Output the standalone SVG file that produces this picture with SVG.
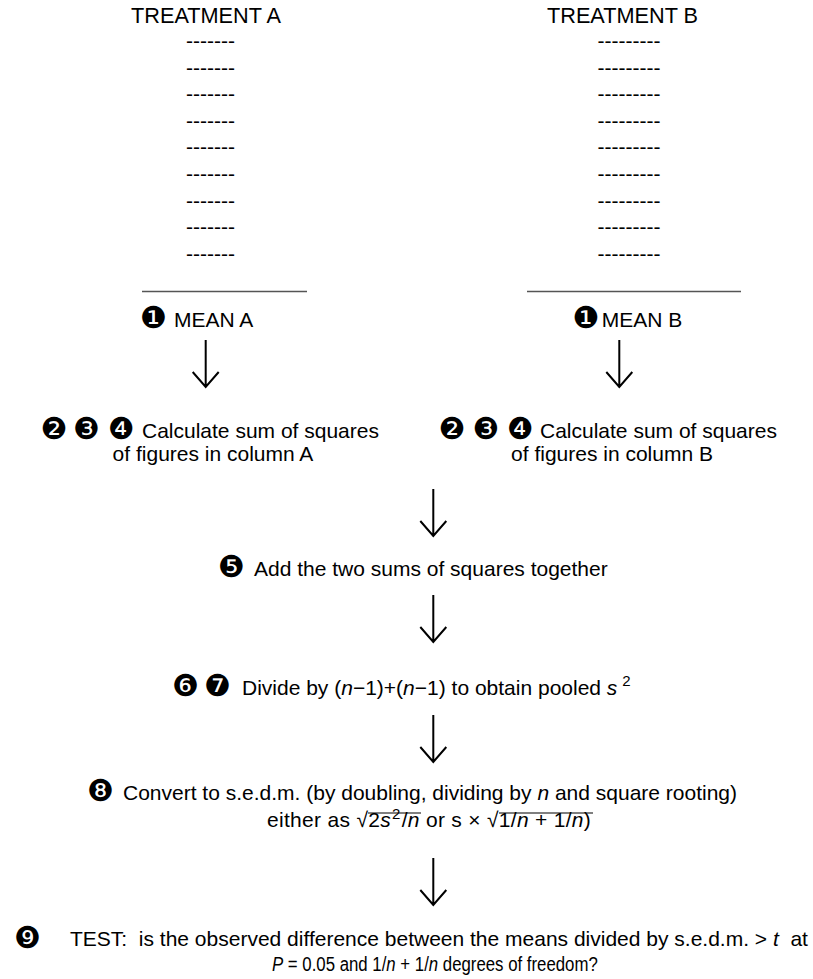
<svg xmlns="http://www.w3.org/2000/svg" width="813" height="979" viewBox="0 0 813 979">
<style>
text{font-family:"Liberation Sans",Arial,sans-serif;font-size:21px;fill:#000}
.h{font-size:21.7px}
.d{font-family:"DejaVu Sans",sans-serif;font-size:30px}
.i{font-style:italic}
.m{text-anchor:middle}
.arr{stroke:#000;stroke-width:2;fill:none}
.rule{stroke:#555;stroke-width:1.3}
.ov{stroke:#000;stroke-width:1.2}
</style>
<defs>
<symbol id="arrow" overflow="visible"><path class="arr" d="M13 0 V47 M0 32 L13 47 L26 32"/></symbol>
</defs>
<g id="treatmentA">
<text class="m h" x="206" y="23">TREATMENT A</text>
<text class="m" x="210.5" y="48">-------</text>
<text class="m" x="210.5" y="74.6">-------</text>
<text class="m" x="210.5" y="101.2">-------</text>
<text class="m" x="210.5" y="127.8">-------</text>
<text class="m" x="210.5" y="154.4">-------</text>
<text class="m" x="210.5" y="181">-------</text>
<text class="m" x="210.5" y="207.6">-------</text>
<text class="m" x="210.5" y="234.2">-------</text>
<text class="m" x="210.5" y="260.8">-------</text>
<line class="rule" x1="142" y1="291.5" x2="307" y2="291.5"/>
</g>
<g id="treatmentB">
<text class="m h" x="622.5" y="23">TREATMENT B</text>
<text class="m" x="629" y="48">---------</text>
<text class="m" x="629" y="74.6">---------</text>
<text class="m" x="629" y="101.2">---------</text>
<text class="m" x="629" y="127.8">---------</text>
<text class="m" x="629" y="154.4">---------</text>
<text class="m" x="629" y="181">---------</text>
<text class="m" x="629" y="207.6">---------</text>
<text class="m" x="629" y="234.2">---------</text>
<text class="m" x="629" y="260.8">---------</text>
<line class="rule" x1="527" y1="291.5" x2="741" y2="291.5"/>
</g>
<g id="meanA">
<text class="d" x="140" y="328">❶</text>
<text x="174" y="327">MEAN A</text>
</g>
<g id="meanB">
<text class="d" x="572.5" y="328">❶</text>
<text x="601.7" y="327">MEAN B</text>
</g>
<g id="ssA">
<text class="d" x="40.5" y="439">❷</text>
<text class="d" x="73" y="439">❸</text>
<text class="d" x="108" y="439">❹</text>
<text x="142" y="438">Calculate sum of squares</text>
<text class="m" x="213" y="461">of figures in column A</text>
</g>
<g id="ssB">
<text class="d" x="438.5" y="439">❷</text>
<text class="d" x="472.5" y="439">❸</text>
<text class="d" x="507" y="439">❹</text>
<text x="540" y="438">Calculate sum of squares</text>
<text class="m" x="612" y="461">of figures in column B</text>
</g>
<g id="step5">
<text class="d" x="218" y="576.5">❺</text>
<text x="254" y="575.5">Add the two sums of squares together</text>
</g>
<g id="step6">
<text class="d" x="172" y="696">❻</text>
<text class="d" x="204" y="696">❼</text>
<text x="242" y="695">Divide by (<tspan class="i">n</tspan>−1)+(<tspan class="i">n</tspan>−1) to obtain pooled <tspan class="i">s</tspan><tspan font-size="15" dx="5" dy="-9">2</tspan></text>
</g>
<g id="step8">
<text class="d" x="87" y="801">❽</text>
<text x="123" y="800">Convert to s.e.d.m. (by doubling, dividing by <tspan class="i">n</tspan> and square rooting)</text>
<text x="267" y="827" letter-spacing="0.3">either as √2<tspan class="i">s</tspan><tspan font-size="15" dx="1" dy="-8">2</tspan><tspan dx="1" dy="8">/</tspan><tspan class="i">n</tspan> or s × √1/<tspan class="i">n</tspan> + 1/<tspan class="i">n</tspan>)</text>
<line class="ov" x1="368" y1="813" x2="421" y2="813"/>
<line class="ov" x1="499" y1="813" x2="593" y2="813"/>
</g>
<g id="step9">
<text class="d" x="14" y="948">❾</text>
<text x="70" y="946" font-size="20.8" xml:space="preserve">TEST:  is the observed difference between the means divided by s.e.d.m. &gt; <tspan class="i">t</tspan>  at</text>
<text transform="translate(272 971) scale(0.8 1)" x="0" y="0"><tspan class="i">P</tspan> = 0.05 and 1/<tspan class="i">n</tspan> + 1/<tspan class="i">n</tspan> degrees of freedom?</text>
</g>
<g id="connectors">
<use href="#arrow" x="192.7" y="340"/>
<use href="#arrow" x="606.3" y="340"/>
<use href="#arrow" x="420.3" y="489"/>
<use href="#arrow" x="420.3" y="595"/>
<use href="#arrow" x="420.3" y="715"/>
<use href="#arrow" x="420.3" y="858"/>
</g>
</svg>
